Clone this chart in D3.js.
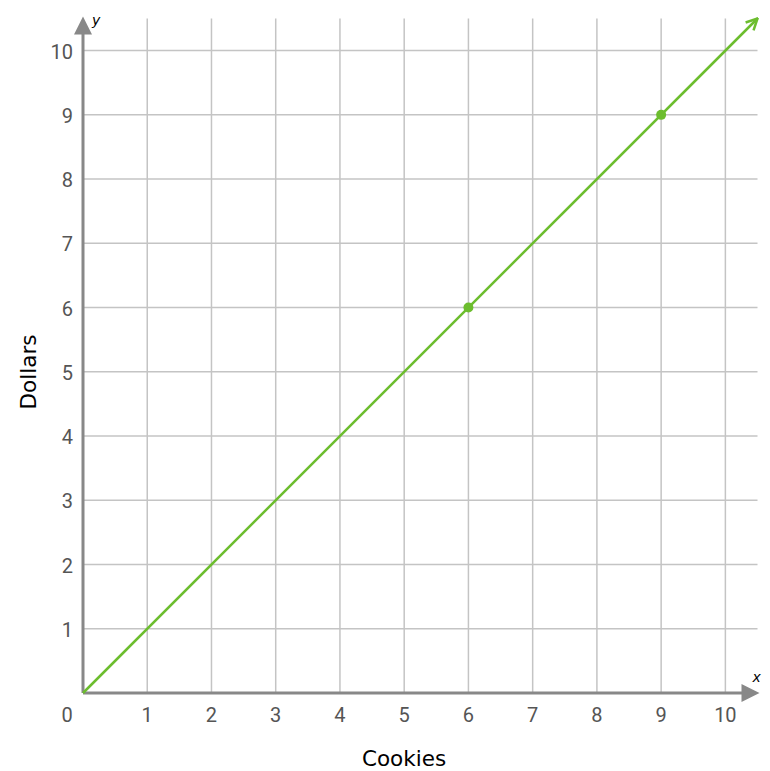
<!DOCTYPE html>
<html><head><meta charset="utf-8">
<script src="https://cdn.jsdelivr.net/npm/d3@7"></script>
<style>body{margin:0;background:#fff}</style>
</head><body>
<svg id="c" width="770" height="771"></svg>
<script>
const xTicks = [1,2,3,4,5,6,7,8,9,10];
const yTicks = [1,2,3,4,5,6,7,8,9,10];
const linePoints = [[0,0],[10.5,10.5]];
const markedPoints = [[6,6],[9,9]];
const xTitle = "Cookies";
const yTitle = "Dollars";

const svg = d3.select("#c");
const x = d3.scaleLinear().domain([0,10.5]).range([83,757.5]);
const y = d3.scaleLinear().domain([0,10.5]).range([693,18.5]);
const green = "#6cbd2e", axisCol = "#888", gridCol = "#c4c4c4";

// grid
svg.append("g").selectAll("line").data(xTicks).join("line")
  .attr("x1",d=>x(d)).attr("x2",d=>x(d)).attr("y1",y(10.5)).attr("y2",y(0))
  .attr("stroke",gridCol).attr("stroke-width",1.5);
svg.append("g").selectAll("line").data(yTicks).join("line")
  .attr("y1",d=>y(d)).attr("y2",d=>y(d)).attr("x1",x(0)).attr("x2",x(10.5))
  .attr("stroke",gridCol).attr("stroke-width",1.5);

// axes
svg.append("line").attr("x1",x(0)).attr("x2",x(10.5)-14).attr("y1",y(0)).attr("y2",y(0))
  .attr("stroke",axisCol).attr("stroke-width",3);
svg.append("line").attr("x1",x(0)).attr("x2",x(0)).attr("y1",y(0)).attr("y2",y(10.5)+14)
  .attr("stroke",axisCol).attr("stroke-width",3);
const ax = x(10.5)+2, ay = y(0);
svg.append("path").attr("d",`M${ax},${ay} L${ax-18},${ay-9} L${ax-18},${ay+9} Z`).attr("fill",axisCol);
const bx = x(0), by = y(10.5)-2;
svg.append("path").attr("d",`M${bx},${by} L${bx-9},${by+18} L${bx+9},${by+18} Z`).attr("fill",axisCol);

// tick labels
const tickFont = "Roboto, sans-serif", tickSize = 20, tickCol = "#555";
svg.append("g").selectAll("text").data(xTicks).join("text")
  .attr("x",d=>x(d)).attr("y",y(0)+29).attr("text-anchor","middle")
  .attr("font-family",tickFont).attr("font-size",tickSize).attr("fill",tickCol)
  .text(d=>d);
svg.append("text").attr("x",x(0)-16).attr("y",y(0)+29).attr("text-anchor","middle")
  .attr("font-family",tickFont).attr("font-size",tickSize).attr("fill",tickCol).text("0");
svg.append("g").selectAll("text").data(yTicks).join("text")
  .attr("x",x(0)-10).attr("y",d=>y(d)+8).attr("text-anchor","end")
  .attr("font-family",tickFont).attr("font-size",tickSize).attr("fill",tickCol)
  .text(d=>d);

// axis letters
svg.append("text").attr("x",x(10.5)-5).attr("y",y(0)-11).attr("font-family","DejaVu Sans, sans-serif")
  .attr("font-style","italic").attr("font-size",14).attr("fill","#000").text("x");
svg.append("text").attr("x",x(0)+9).attr("y",y(10.5)+6).attr("font-family","DejaVu Sans, sans-serif")
  .attr("font-style","italic").attr("font-size",14).attr("fill","#000").text("y");

// titles
svg.append("text").attr("x",404).attr("y",766).attr("text-anchor","middle")
  .attr("font-family","DejaVu Sans, sans-serif").attr("font-size",21.5).attr("fill","#000").text(xTitle);
svg.append("text").attr("transform","translate(36,372) rotate(-90)").attr("text-anchor","middle")
  .attr("font-family","DejaVu Sans, sans-serif").attr("font-size",21.5).attr("fill","#000").text(yTitle);

// line with arrow
const defs = svg.append("defs");
defs.append("marker").attr("id","arr").attr("viewBox","0 0 10 10").attr("refX",9).attr("refY",5)
  .attr("orient","auto").attr("markerUnits","userSpaceOnUse")
  .attr("markerWidth",14).attr("markerHeight",14)
  .append("path").attr("d","M1,1 L9,5 L1,9").attr("fill","none").attr("stroke",green).attr("stroke-width",1.8);
svg.append("path").attr("d",d3.line().x(d=>x(d[0])).y(d=>y(d[1]))(linePoints))
  .attr("stroke",green).attr("stroke-width",2.5).attr("fill","none").attr("marker-end","url(#arr)");

svg.append("g").selectAll("circle").data(markedPoints).join("circle")
  .attr("cx",d=>x(d[0])).attr("cy",d=>y(d[1])).attr("r",5).attr("fill",green);
</script>
</body></html>
